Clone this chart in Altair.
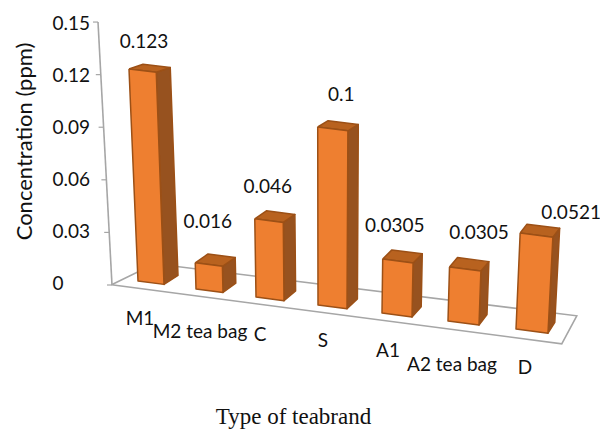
import altair as alt
import pandas as pd

# ---- chart data -------------------------------------------------------
CATEGORIES = ["M1", "M2 tea bag", "C", "S", "A1", "A2 tea bag", "D"]
VALUES = [0.123, 0.016, 0.046, 0.1, 0.0305, 0.0305, 0.0521]
VALUE_TEXT = ["0.123", "0.016", "0.046", "0.1", "0.0305", "0.0305", "0.0521"]
Y_TICKS = [0, 0.03, 0.06, 0.09, 0.12, 0.15]

# ---- perspective model of the 3-D column chart ------------------------
GAIN = [1724, 1640, 1700, 1780, 1770, 1770, 1842]
VALUE_NUDGE = [(2, -27), (-1, -41), (-1, -32), (9, -32), (-3, -33), (14, -34), (35, -20)]
CAT_NUDGE = [(-11, 38), (-9.5, 43), (-10, 38), (-9.5, 36), (-9, 38), (-11.5, 44), (-7, 39)]
LEFT, TOP, PLOT_W, PLOT_H = 90, 8, 510, 422
V_PER_PX = 1 / 1727.0
ZERO_PX = 283


def to_v(py):
    return (ZERO_PX - py) * V_PER_PX


def slot(i):
    return 138 + 58 * i + i * (i - 1), 281 + 8 * i


def lean(x, h):
    return x + (x - 325) * h * 2.27e-4


rows, val_rows, cat_rows = [], [], []
for i, (cat, v) in enumerate(zip(CATEGORIES, VALUES)):
    bx, by = slot(i)
    w = 26 + i
    drop = 0.13 * w
    h = v * GAIN[i]
    ddx, ddy = 14 - 1.2 * i, -9 - 0.3 * i
    ddy_top = ddy + h * 0.02
    BL = (bx, by)
    BR = (bx + w, by + drop)
    TL = (lean(bx, h), by - h)
    TR = (lean(bx + w, h), by + drop - h)
    BRb = (BR[0] + ddx, BR[1] + ddy)
    TRb = (TR[0] + ddx, TR[1] + ddy_top)
    TLb = (TL[0] + ddx, TL[1] + ddy_top)
    faces = {
        "side": [TR, BR, BRb, TRb, TR],
        "top": [TL, TR, TRb, TLb, TL],
        "front": [TL, TR, BR, BL, TL],
    }
    for face, pts in faces.items():
        for k, (x, y) in enumerate(pts):
            rows.append({"id": f"{cat}-{face}", "face": face, "k": k, "x": x, "y": to_v(y)})
    nx, ny = VALUE_NUDGE[i]
    val_rows.append({"t": VALUE_TEXT[i], "x": TL[0] + w / 2 + nx, "y": to_v(TL[1] + ny)})
    cx, cy = CAT_NUDGE[i]
    cat_rows.append({"t": cat, "x": bx + w / 2 + cx, "y": to_v(by + cy)})

faces_df = pd.DataFrame(rows)


def axis_pt(v):
    return 112 - v / 0.15 * 14, 285 - v * 1753


# floor outline and value wall, derived from the same slots
s0, s1 = -0.45, 6.6
fl = (slot(s0)[0] - 1, slot(s0)[1] + 7.4)
fr = (slot(s1)[0] + 4, slot(s1)[1] + 10)
bl = (fl[0] + 43, fl[1] - 21)
br = (fr[0] + 15, fr[1] - 28)
floor_pts = [fl, fr, br, bl, fl]
floor_df = pd.DataFrame([{"k": k, "x": x, "y": to_v(y)} for k, (x, y) in enumerate(floor_pts)])

wall_df = pd.DataFrame(
    [{"k": k, "x": axis_pt(v)[0], "y": to_v(axis_pt(v)[1])} for k, v in enumerate([0, 0.15])]
)
tick_rows = []
for t in Y_TICKS:
    ax, ay = axis_pt(t)
    tick_rows.append({"x": ax - 5, "x2": ax, "y": to_v(ay), "tick": t})
tick_df = pd.DataFrame(tick_rows)

# ---- scales -----------------------------------------------------------
xs = alt.Scale(domain=[LEFT, LEFT + PLOT_W], range=[0, PLOT_W], nice=False, zero=False)
ys = alt.Scale(domain=[to_v(TOP + PLOT_H), to_v(TOP)], range=[PLOT_H, 0], nice=False, zero=False)

FONT = "Lato"
GREY = "#a6a6a6"

x_axis = alt.Axis(
    labels=False, ticks=False, domain=False, grid=False,
    title="Type of teabrand", titleFont="Liberation Serif", titleFontSize=23,
    titleFontWeight="normal", titleColor="#111111",
    titleX=203, titleY=-14, titleAlign="center", titleBaseline="middle",
)
y_axis = alt.Axis(
    values=Y_TICKS, format=".2~f", ticks=False, domain=False, grid=False,
    labelFont=FONT, labelFontSize=19, labelColor="#111111", labelAlign="left",
    labelBaseline="middle", labelPadding=38,
    title="Concentration (ppm)", titleFont=FONT, titleFontSize=22, titleFontWeight="normal",
    titleColor="#111111", titleAngle=-90, titleX=-66, titleY=133,
    titleAlign="center", titleBaseline="middle",
)

floor = alt.Chart(floor_df).mark_line(stroke=GREY, strokeWidth=1.6, strokeJoin="miter").encode(
    x=alt.X("x:Q", scale=xs, axis=x_axis),
    y=alt.Y("y:Q", scale=ys, axis=y_axis),
    order="k:Q",
)
wall = alt.Chart(wall_df).mark_line(stroke=GREY, strokeWidth=1.6).encode(
    x=alt.X("x:Q", scale=xs), y=alt.Y("y:Q", scale=ys), order="k:Q"
)
ticks = alt.Chart(tick_df).mark_rule(stroke=GREY, strokeWidth=1.2).encode(
    x=alt.X("x:Q", scale=xs), x2="x2:Q", y=alt.Y("y:Q", scale=ys)
)


def face_layer(name, fill):
    return alt.Chart(faces_df[faces_df.face == name]).mark_line(
        fill=fill, stroke="#9c5016", strokeWidth=1.5, strokeJoin="round"
    ).encode(
        x=alt.X("x:Q", scale=xs), y=alt.Y("y:Q", scale=ys),
        detail="id:N", order="k:Q",
    )


val_text = alt.Chart(pd.DataFrame(val_rows)).mark_text(
    font=FONT, fontSize=19, color="#111111", align="center", baseline="middle"
).encode(x=alt.X("x:Q", scale=xs), y=alt.Y("y:Q", scale=ys), text="t:N")
cat_text = alt.Chart(pd.DataFrame(cat_rows)).mark_text(
    font=FONT, fontSize=19, color="#111111", align="center", baseline="middle"
).encode(x=alt.X("x:Q", scale=xs), y=alt.Y("y:Q", scale=ys), text="t:N")

chart = alt.layer(
    floor, wall, ticks,
    face_layer("side", "#97521f"),
    face_layer("top", "#b8621f"),
    face_layer("front", "#ee7f30"),
    val_text, cat_text,
).properties(
    width=PLOT_W, height=PLOT_H,
    padding={"left": LEFT - 8, "top": 0, "right": 0, "bottom": 0},
    autosize=alt.AutoSizeParams(type="none"),
).configure_view(stroke=None)

chart.save("out.html", embed_options={"renderer": "svg", "actions": False})
